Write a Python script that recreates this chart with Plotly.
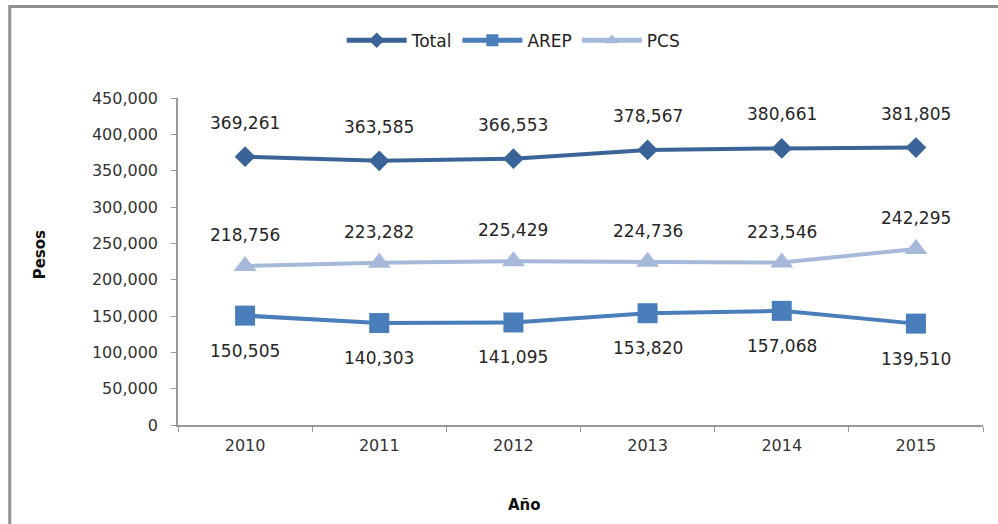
import plotly.graph_objects as go

years = ["2010", "2011", "2012", "2013", "2014", "2015"]
total = [369261, 363585, 366553, 378567, 380661, 381805]
arep = [150505, 140303, 141095, 153820, 157068, 139510]
pcs = [218756, 223282, 225429, 224736, 223546, 242295]
y_ticks = [0, 50000, 100000, 150000, 200000, 250000, 300000, 350000, 400000, 450000]

FONT = "DejaVu Sans"
C_TOTAL = "#3A6498"
C_AREP = "#4A7EBB"
C_PCS = "#A7B9DA"

fig = go.Figure()
fig.add_trace(go.Scatter(x=years, y=total, name="Total", mode="lines+markers",
                         line=dict(color=C_TOTAL, width=4),
                         marker=dict(symbol="diamond", size=16, color=C_TOTAL)))
fig.add_trace(go.Scatter(x=years, y=arep, name="AREP", mode="lines+markers",
                         line=dict(color=C_AREP, width=4),
                         marker=dict(symbol="square", size=20, color=C_AREP)))
fig.add_trace(go.Scatter(x=years, y=pcs, name="PCS", mode="lines+markers",
                         line=dict(color=C_PCS, width=4),
                         marker=dict(symbol="triangle-up", size=20, color=C_PCS)))

annotations = []
for series, shift in ((total, 34), (pcs, 31), (arep, -35)):
    for i, v in enumerate(series):
        annotations.append(dict(x=i, y=v, xref="x", yref="y", text=f"{v:,}",
                                showarrow=False, yshift=shift, yanchor="middle",
                                font=dict(family=FONT, size=17, color="#262626")))

annotations.append(dict(x=-0.171, y=0.52, xref="paper", yref="paper", text="<b>Pesos</b>",
                        textangle=-90, showarrow=False, xanchor="center", yanchor="middle",
                        font=dict(family=FONT, size=15, color="#111111")))
annotations.append(dict(x=0.43, y=-0.245, xref="paper", yref="paper", text="<b>Año</b>",
                        showarrow=False, xanchor="center", yanchor="middle",
                        font=dict(family=FONT, size=15, color="#111111")))

fig.update_layout(
    width=998, height=524,
    margin=dict(l=178, r=15, t=98, b=99),
    paper_bgcolor="white", plot_bgcolor="white",
    font=dict(family=FONT, size=15, color="#333333"),
    showlegend=True,
    legend=dict(orientation="h", x=0.417, y=1.175, xanchor="center", yanchor="middle",
                font=dict(family=FONT, size=17, color="#222222"), itemwidth=60,
                itemsizing="constant", bgcolor="rgba(0,0,0,0)"),
    annotations=annotations,
    shapes=[dict(type="rect", xref="paper", yref="paper", x0=-0.209, x1=1.05,
                 y0=-0.35, y1=1.28, line=dict(color="#909090", width=3),
                 fillcolor="rgba(0,0,0,0)", layer="above")],
)
fig.update_xaxes(type="category", range=[-0.5, 5.5], showgrid=False, showline=True,
                 linecolor="#999999", linewidth=1.5, ticks="outside", tickson="boundaries",
                 ticklen=5, tickcolor="#999999", tickfont=dict(family=FONT, size=16, color="#333333"),
                 ticklabelstandoff=5, zeroline=False)
fig.update_yaxes(range=[0, 450000], tickvals=y_ticks, tickformat=",d", showgrid=False,
                 showline=True, linecolor="#999999", linewidth=1.5, ticks="outside",
                 ticklen=5, tickcolor="#999999", tickfont=dict(family=FONT, size=16, color="#333333"),
                 ticklabelstandoff=10, zeroline=False)

fig.write_html("out.html", config={"displayModeBar": False},
               post_script="document.body.style.margin='0px';")
